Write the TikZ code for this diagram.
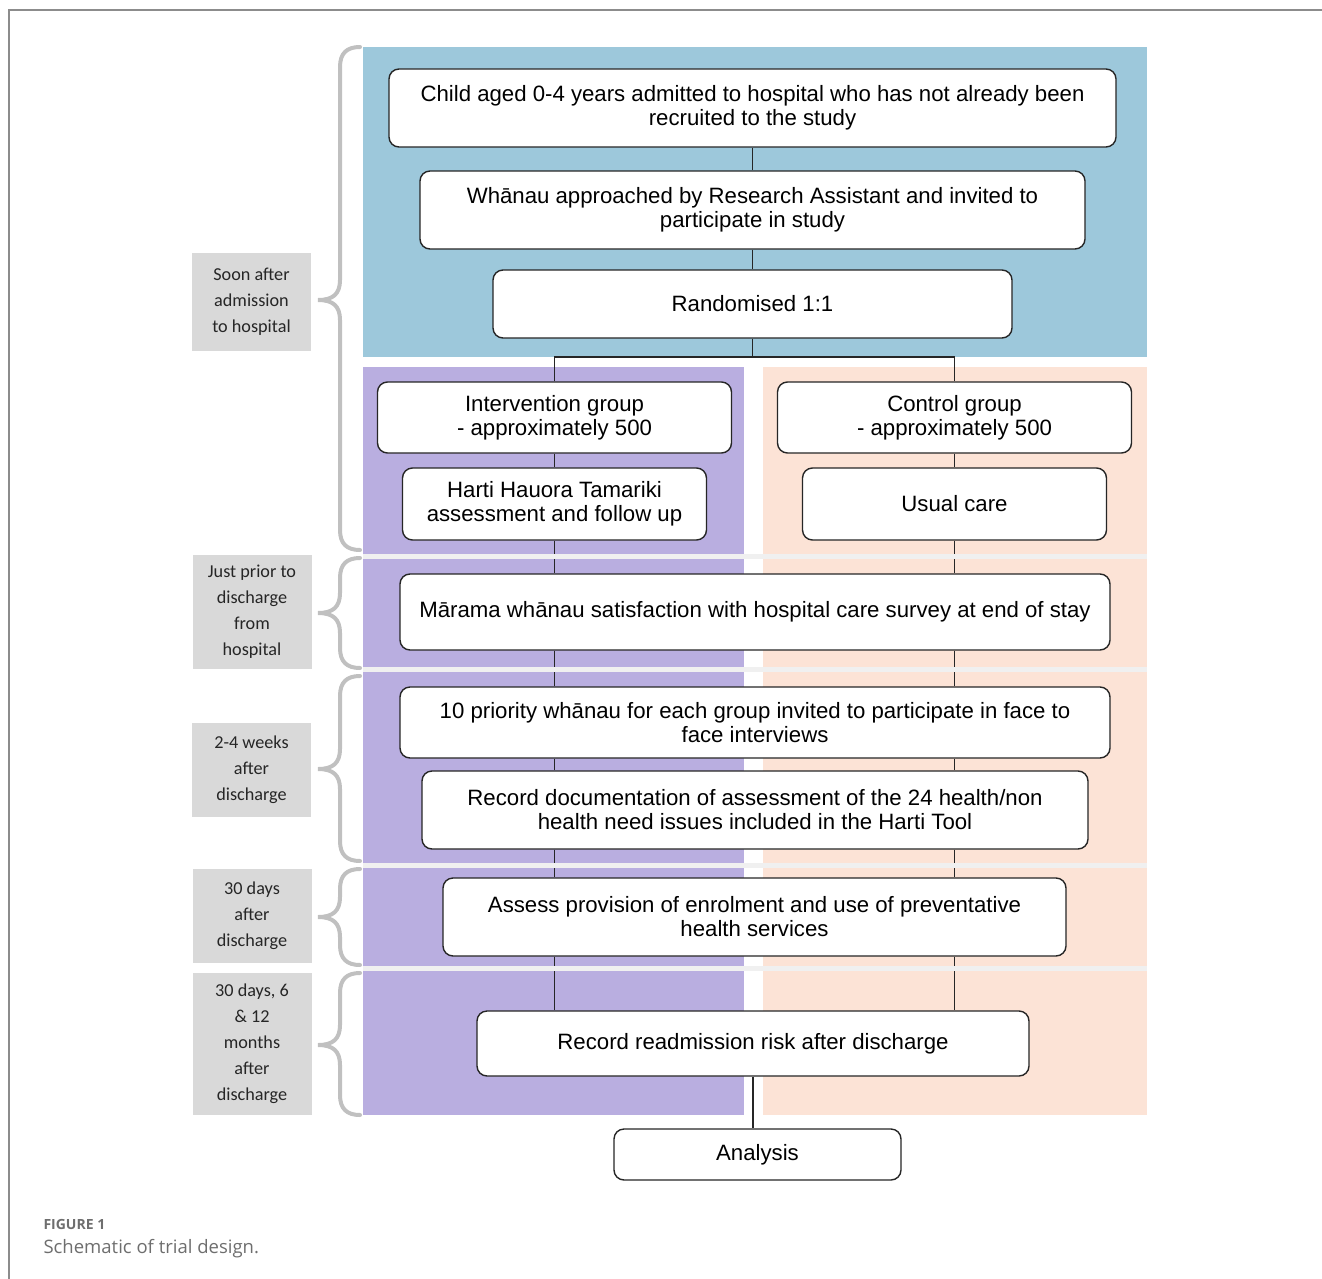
\documentclass[tikz,border=0pt]{standalone}
\usepackage{fontspec}
\setmainfont{Liberation Sans}
\newfontfamily\labelfont{Carlito}
\newfontfamily\capfont{Open Sans}
\definecolor{blueband}{RGB}{157,200,219}
\definecolor{purpleband}{RGB}{185,174,224}
\definecolor{peachband}{RGB}{252,227,214}
\definecolor{labelgray}{RGB}{217,217,217}
\definecolor{bracegray}{RGB}{192,192,192}
\definecolor{sepgray}{RGB}{240,240,240}
\definecolor{capgray}{RGB}{110,110,110}
\definecolor{framegray}{RGB}{140,140,140}
\tikzset{
  stage/.style={draw=black!85, line width=1.4pt, rounded corners=10pt, fill=white,
    align=center, inner sep=0pt, font=\fontsize{22.2}{24}\selectfont},
  when/.style={fill=labelgray, text=black!85, align=center, inner sep=0pt,
    minimum width=119pt, font=\labelfont\fontsize{18.2}{26}\selectfont},
  link/.style={draw=black!85, line width=1.2pt},
  sepline/.style={draw=sepgray, line width=5pt},
  curly/.style={draw=bracegray, line width=4pt, line cap=round},
}
\begin{document}
\begin{tikzpicture}[x=1pt,y=-1pt]
\useasboundingbox (0,0) rectangle (1322,1279);
\draw[framegray, line width=1.3pt] (9,1279) -- (9,10) -- (1322,10);

\fill[blueband] (363,47) rectangle (1147,357);
\fill[purpleband] (363,367) rectangle (744,1115);
\fill[peachband] (763,367) rectangle (1147,1115);

\foreach \t/\m/\b in {47/300/550, 558/613/668, 676/769/861, 869/917/965, 973/1045/1115}
  \draw[curly] (360,\t) .. controls (347,\t) and (340,\t+6) .. (340,\t+20)
    -- (340,\m-20) .. controls (340,\m-6) and (333,\m) .. (318,\m)
    .. controls (333,\m) and (340,\m+6) .. (340,\m+20)
    -- (340,\b-20) .. controls (340,\b-6) and (347,\b) .. (360,\b);

\node[when, minimum height=98pt] (soon) at (251.5,302) {Soon after\\admission\\to hospital};
\node[when, minimum height=114pt] (prior) at (252,612) {Just prior to\\discharge\\from\\hospital};
\node[when, minimum height=94pt] (weeks) at (251.5,770) {2-4 weeks\\after\\discharge};
\node[when, minimum height=94pt] (days) at (252,916) {30 days\\after\\discharge};
\node[when, minimum height=142pt] (months) at (252,1044) {30 days, 6\\\& 12\\months\\after\\discharge};

\node[stage, minimum width=727pt, minimum height=78pt] (child) at (752.5,108)
  {Child aged 0-4 years admitted to hospital who has not already been\\recruited to the study};
\node[stage, minimum width=665pt, minimum height=78pt] (invite) at (752.5,210)
  {Whānau approached by Research Assistant and invited to\\participate in study};
\node[stage, minimum width=519pt, minimum height=68pt] (rand) at (752.5,304) {Randomised 1:1};
\node[stage, minimum width=354pt, minimum height=71pt] (interv) at (554.5,417.5)
  {Intervention group\\- approximately 500};
\node[stage, minimum width=304pt, minimum height=72pt] (harti) at (554.5,504)
  {Harti Hauora Tamariki\\assessment and follow up};
\node[stage, minimum width=354pt, minimum height=71pt] (ctrl) at (954.5,417.5)
  {Control group\\- approximately 500};
\node[stage, minimum width=304pt, minimum height=72pt] (usual) at (954.5,504) {Usual care};
\node[stage, minimum width=710pt, minimum height=76pt] (marama) at (755,612)
  {Mārama whānau satisfaction with hospital care survey at end of stay};
\node[stage, minimum width=710pt, minimum height=71pt] (tenpri) at (755,722.5)
  {10 priority whānau for each group invited to participate in face to\\face interviews};
\node[stage, minimum width=666pt, minimum height=78pt] (record) at (755,810)
  {Record documentation of assessment of the 24 health/non\\health need issues included in the Harti Tool};
\node[stage, minimum width=623pt, minimum height=78pt] (assess) at (754.5,917)
  {Assess provision of enrolment and use of preventative\\health services};
\node[stage, minimum width=552pt, minimum height=65pt] (readm) at (753,1043.5)
  {Record readmission risk after discharge};
\node[stage, minimum width=287pt, minimum height=51pt] (analysis) at (757.5,1154.5) {Analysis};

\coordinate (split) at (752.5,357);
\draw[link] (child) -- (invite);
\draw[link] (invite) -- (rand);
\draw[link] (rand) -- (split);
\draw[link] (interv.north) |- (split) -| (ctrl.north);
\draw[link] (interv) -- (harti);
\draw[link] (ctrl) -- (usual);
\draw[link] (harti.south) -- (harti.south |- marama.north);
\draw[link] (usual.south) -- (usual.south |- marama.north);
\foreach \a/\b in {marama/tenpri, tenpri/record, record/assess, assess/readm}{
  \draw[link] (\a.south -| harti) -- (\b.north -| harti);
  \draw[link] (\a.south -| usual) -- (\b.north -| usual);
}
\draw[link] (readm) -- (readm |- analysis.north);

\foreach \y in {556,669,865,968}
  \draw[sepline] (363,\y) -- (1147,\y);

\node[anchor=base west, text=capgray, font=\capfont\bfseries\fontsize{14}{16}\selectfont]
  (fignum) at (40,1229) {FIGURE 1};
\node[anchor=base west, text=capgray, font=\capfont\fontsize{18.5}{22}\selectfont]
  (figcap) at (40,1253) {Schematic of trial design.};
\end{tikzpicture}
\end{document}
